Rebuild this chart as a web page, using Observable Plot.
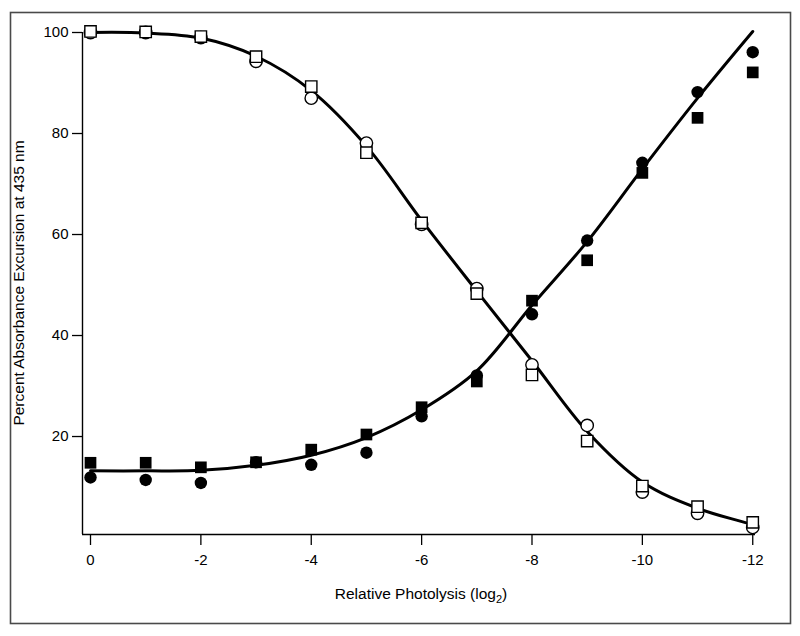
<!DOCTYPE html>
<html>
<head>
<meta charset="utf-8">
<script src="https://cdn.jsdelivr.net/npm/d3@7"></script>
<script src="https://cdn.jsdelivr.net/npm/@observablehq/plot@0.6"></script>
<style>
  html, body { margin: 0; padding: 0; background: #fff; }
  #chart svg { display: block; }
</style>
</head>
<body>
<div id="chart"></div>
<script>
// Photolysis steps (log2)
const xs = [0, -1, -2, -3, -4, -5, -6, -7, -8, -9, -10, -11, -12];
// Open symbols (decreasing series)
const openSquare = [100.2, 100.1, 99.2, 95.2, 89.3, 76.2, 62.3, 48.3, 32.2, 19.1, 10.2, 6.1, 3.0];
const openCircle = [100, 100, 99, 94.3, 87.0, 78.1, 62.0, 49.3, 34.2, 22.2, 9.0, 4.8, 2.0];
// Filled symbols (increasing series)
const filledSquare = [14.8, 14.8, 13.9, 14.9, 17.4, 20.4, 25.8, 30.9, 46.9, 54.9, 72.2, 83.1, 92.1];
const filledCircle = [11.9, 11.4, 10.8, 14.9, 14.4, 16.8, 24.0, 32.1, 44.2, 58.8, 74.2, 88.2, 96.1];
// Fitted curves
const fitDown = [100, 99.9, 98.9, 95.3, 88.5, 77.5, 62.8, 48.8, 35.0, 21.0, 11.0, 5.8, 2.6];
const fitUp = [13.2, 13.2, 13.3, 14.3, 16.3, 19.8, 25.3, 33.0, 46.0, 58.6, 73.0, 87.0, 100.2];
// Axis ticks and labels
const xTicks = [0, -2, -4, -6, -8, -10, -12];
const yTicks = [20, 40, 60, 80, 100];
const xDomain = [0.145, -12.05];
const yDomain = [0.6, 100];
const xLabel = "Relative Photolysis (log";
const xLabelSub = "2";
const yLabel = "Percent Absorbance Excursion at 435 nm";

const rows = (ys) => xs.map((x, i) => ({x, y: ys[i]}));

const fontFamily = "'Liberation Sans', Arial, Helvetica, sans-serif";

const chart = Plot.plot({
  width: 800,
  height: 636,
  marginLeft: 82,
  marginRight: 45,
  marginTop: 32,
  marginBottom: 102,
  style: {fontFamily, fontSize: "15px", color: "#000", background: "#fff"},
  x: {domain: xDomain, axis: null},
  y: {domain: yDomain, axis: null},
  marks: [
    Plot.axisX({ticks: xTicks, tickSize: 11, tickPadding: 9, tickFormat: d => String(d), label: null, strokeWidth: 1.3, fontSize: 15}),
    Plot.axisY({ticks: yTicks, tickSize: 10, tickPadding: 4, tickFormat: d => String(d), label: null, strokeWidth: 1.3, fontSize: 15}),
    Plot.ruleY([yDomain[0]], {stroke: "#000", strokeWidth: 1.4}),
    Plot.ruleX([xDomain[0]], {stroke: "#000", strokeWidth: 1.4}),
    Plot.line(rows(fitDown), {x: "x", y: "y", stroke: "#000", strokeWidth: 3, curve: "catmull-rom"}),
    Plot.line(rows(fitUp), {x: "x", y: "y", stroke: "#000", strokeWidth: 3, curve: "catmull-rom"}),
    Plot.dot(rows(openCircle), {x: "x", y: "y", symbol: "circle", r: 6.2, fill: "#fff", stroke: "#000", strokeWidth: 1.4}),
    Plot.dot(rows(openSquare), {x: "x", y: "y", symbol: "square", r: 6.4, fill: "#fff", stroke: "#000", strokeWidth: 1.4}),
    Plot.dot(rows(filledCircle), {x: "x", y: "y", symbol: "circle", r: 6.2, fill: "#000", stroke: "none"}),
    Plot.dot(rows(filledSquare), {x: "x", y: "y", symbol: "square", r: 6.6, fill: "#000", stroke: "none"})
  ]
});

document.getElementById("chart").appendChild(chart);

const svg = d3.select(chart);
// outer frame
svg.append("rect")
  .attr("x", 10.5).attr("y", 12.5).attr("width", 780).attr("height", 611)
  .attr("fill", "none").attr("stroke", "#4a4a4a").attr("stroke-width", 1.6);
// x label with subscript
const xl = svg.append("text")
  .attr("x", 421).attr("y", 599)
  .attr("text-anchor", "middle")
  .attr("font-family", fontFamily).attr("font-size", 15.5).attr("fill", "#000");
xl.append("tspan").text(xLabel);
xl.append("tspan").attr("font-size", 11).attr("dy", 4).text(xLabelSub);
xl.append("tspan").attr("dy", -4).text(")");
// y label
svg.append("text")
  .attr("transform", "translate(20,283) rotate(-90)")
  .attr("text-anchor", "middle")
  .attr("dominant-baseline", "middle")
  .attr("font-family", fontFamily).attr("font-size", 15.5).attr("fill", "#000")
  .text(yLabel);
</script>
</body>
</html>
